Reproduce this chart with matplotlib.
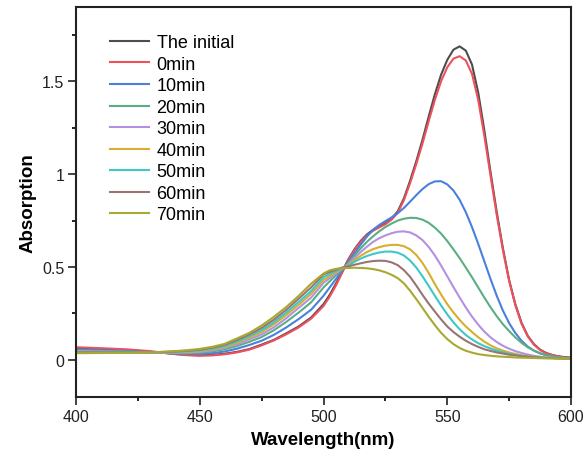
import matplotlib.pyplot as plt
from matplotlib.ticker import MultipleLocator

plt.rcParams['font.family'] = ['Liberation Sans', 'DejaVu Sans']

# wavelength grid (nm), finer where the bands bend
wl = [400, 410, 420, 430, 440, 445, 450, 455, 460, 465, 470, 475, 480, 485, 490, 495,
      500, 502.5, 505, 507.5, 510, 512.5, 515, 517.5, 520, 522.5, 525, 527.5, 530, 532.5,
      535, 537.5, 540, 542.5, 545, 547.5, 550, 552.5, 555, 557.5, 560, 562.5, 565, 567.5,
      570, 572.5, 575, 577.5, 580, 582.5, 585, 587.5, 590, 592.5, 595, 597.5, 600]

labels = ["The initial", "0min", "10min", "20min", "30min",
          "40min", "50min", "60min", "70min"]

initial = [.062, .058, .053, .044, .032, .027, .025, .027, .033, .043, .058, .082, .108, .143, .180, .228,
           .300, .350, .410, .475, .540, .595, .640, .675, .700, .718, .735, .760, .800, .870,
           .965, 1.07, 1.185, 1.31, 1.43, 1.535, 1.615, 1.67, 1.688, 1.665, 1.59, 1.44, 1.235, 1.01,
           .795, .600, .430, .300, .200, .130, .085, .055, .037, .026, .019, .015, .012]
min0 = [.068, .063, .057, .047, .031, .025, .022, .024, .030, .040, .055, .078, .105, .138, .175, .222,
        .290, .340, .400, .468, .535, .590, .635, .670, .695, .713, .730, .755, .792, .860,
        .952, 1.055, 1.165, 1.285, 1.40, 1.50, 1.575, 1.622, 1.635, 1.612, 1.54, 1.40, 1.205, .990,
        .780, .590, .425, .295, .195, .127, .082, .053, .036, .025, .018, .013, .010]
min10 = [.056, .052, .048, .042, .034, .032, .032, .036, .045, .060, .080, .103, .135, .175, .220, .270,
         .345, .390, .435, .480, .525, .573, .620, .663, .700, .726, .747, .767, .790, .818,
         .852, .887, .920, .946, .961, .962, .945, .912, .862, .795, .715, .625, .530, .435,
         .345, .265, .198, .145, .103, .072, .050, .035, .025, .018, .013, .010, .008]
min20 = [.050, .047, .044, .041, .037, .036, .038, .045, .057, .074, .097, .123, .160, .205, .255, .310,
         .390, .423, .455, .487, .520, .560, .600, .635, .665, .692, .715, .734, .750, .760,
         .765, .764, .755, .738, .712, .680, .640, .595, .548, .497, .445, .390, .335, .283,
         .235, .192, .155, .121, .092, .068, .050, .036, .026, .019, .014, .011, .009]
min30 = [.047, .045, .043, .040, .039, .040, .043, .051, .064, .084, .110, .137, .176, .225, .280, .335,
         .415, .440, .465, .490, .515, .548, .580, .609, .635, .655, .670, .682, .690, .692,
         .686, .670, .645, .608, .562, .508, .450, .392, .336, .282, .233, .190, .152, .121,
         .096, .076, .060, .047, .037, .029, .022, .017, .013, .011, .009, .008, .008]
min40 = [.044, .042, .041, .040, .041, .043, .047, .056, .070, .092, .120, .150, .192, .242, .297, .355,
         .430, .451, .472, .492, .510, .537, .560, .580, .596, .607, .615, .619, .619, .612,
         .595, .565, .522, .468, .408, .352, .300, .255, .215, .180, .150, .122, .098, .078,
         .062, .050, .040, .032, .025, .020, .016, .013, .011, .010, .009, .008, .008]
min50 = [.042, .041, .040, .040, .043, .046, .051, .060, .075, .099, .128, .160, .203, .255, .312, .370,
         .445, .462, .478, .494, .508, .528, .545, .559, .570, .578, .583, .583, .577, .562,
         .535, .497, .450, .398, .345, .293, .245, .202, .165, .134, .110, .090, .074, .061,
         .050, .041, .033, .027, .022, .018, .015, .013, .011, .010, .009, .008, .008]
min60 = [.040, .040, .040, .040, .045, .049, .055, .065, .081, .107, .137, .172, .217, .270, .330, .390,
         .460, .473, .485, .497, .503, .512, .520, .527, .532, .534, .533, .525, .510, .483,
         .447, .400, .350, .303, .260, .218, .180, .150, .125, .103, .085, .070, .057, .048,
         .040, .034, .028, .024, .020, .017, .014, .012, .010, .009, .008, .007, .007]
min70 = [.036, .037, .038, .040, .047, .052, .059, .070, .086, .115, .145, .185, .232, .285, .345, .410,
         .465, .482, .490, .494, .495, .496, .495, .493, .489, .482, .472, .458, .440, .412,
         .372, .327, .280, .232, .187, .146, .112, .085, .064, .049, .039, .031, .026, .022,
         .019, .017, .015, .013, .012, .011, .010, .009, .008, .008, .007, .007, .006]

series = [initial, min0, min10, min20, min30, min40, min50, min60, min70]
colors = ["#4d4d4d", "#f0505e", "#4a80dc", "#5aaf82", "#b490e2",
          "#d8ae2c", "#3cc8c8", "#9a7472", "#a8a832"]

fig = plt.figure(figsize=(5.86, 4.64), dpi=100)
ax = fig.add_axes([0.1297, 0.1422, 0.8447, 0.8406])

for y, c, lab in zip(series, colors, labels):
    ax.plot(wl, y, color=c, lw=1.5, label=lab)

ax.set_xlim(400, 600)
ax.set_ylim(-0.2, 1.9)
ax.xaxis.set_major_locator(MultipleLocator(50))
ax.xaxis.set_minor_locator(MultipleLocator(25))
ax.yaxis.set_minor_locator(MultipleLocator(0.25))
ax.set_yticks([0, 0.5, 1, 1.5])
ax.set_yticklabels(["0", "0.5", "1", "1.5"])
ax.tick_params(which='major', direction='out', length=5.5, width=1.2, labelsize=11.5,
               colors='#222222', pad=3)
ax.tick_params(which='minor', direction='out', length=3, width=1.2)
for s in ax.spines.values():
    s.set_linewidth(1.5)
    s.set_color('#222222')

ax.set_xlabel("Wavelength(nm)", fontsize=13.5, fontweight='bold', labelpad=5)
ax.set_ylabel("Absorption", fontsize=13.5, fontweight='bold', labelpad=4)

ax.legend(loc='upper left', bbox_to_anchor=(0.068, 0.93), frameon=False, fontsize=13,
          handlelength=2.2, handletextpad=0.4, labelspacing=0.25, borderpad=0, borderaxespad=0)

fig.savefig("out.png", dpi=100)
